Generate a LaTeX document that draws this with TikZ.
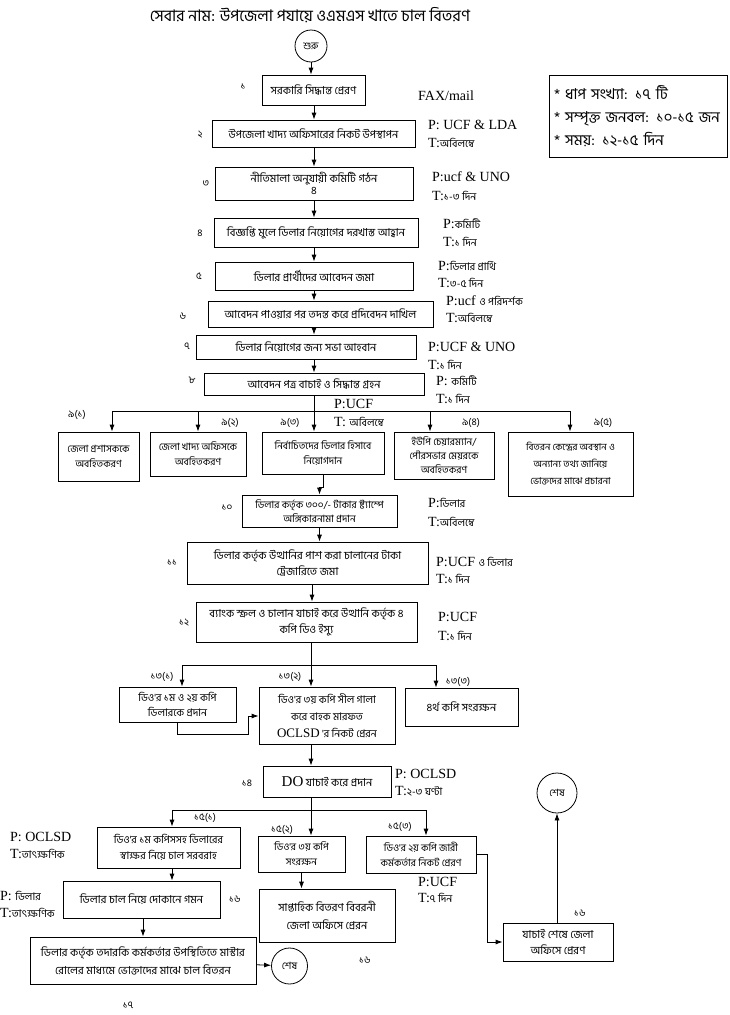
\documentclass[tikz,border=0pt]{standalone}
\usepackage{fontspec}
\setmainfont{Liberation Serif}
\newfontfamily\bn[Script=Bengali]{Hind Siliguri}
\newcommand{\bnsmall}[1]{{\bn\fontsize{10.5}{12}\selectfont #1}}
\usetikzlibrary{arrows.meta}

\begin{document}
\begin{tikzpicture}[%
		x=1pt, y=-1pt,
		>={Latex[length=7pt,width=5pt]},
		box/.style={%
			draw,
			line width=0.8pt,
			align=center,
			inner sep=1pt,
			font=\bn\fontsize{11}{16}\selectfont
		},
		smallbox/.style={%
			box,
			font=\bn\fontsize{10}{15}\selectfont
		},
		term/.style={%
			draw,
			circle,
			line width=0.8pt,
			inner sep=0pt,
			font=\bn\fontsize{10}{12}\selectfont
		},
		stepno/.style={inner sep=0pt, font=\bn\fontsize{10}{12}\selectfont},
		who/.style={anchor=west, inner sep=0pt, font=\fontsize{14}{15}\selectfont},
		flow/.style={->, line width=0.8pt},
		bus/.style={line width=0.8pt}
		]
		\fill[white] (0,0) rectangle (730,1015);
		\useasboundingbox (0,0) rectangle (730,1015);

		\node[font=\bn\fontsize{16}{19}\selectfont] (title) at (310,15) {সেবার নাম: উপজেলা পযায়ে ওএমএস খাতে চাল বিতরণ};
		\node[draw, line width=0.8pt, minimum width=178, minimum height=82, text width=168, align=left,
			font=\bn\fontsize{15}{23}\selectfont] (summary) at (638,116)
			{{*} ধাপ সংখ্যা: ১৭ টি\\{*} সম্পৃক্ত জনবল: ১০-১৫ জন\\{*} সময়: ১২-১৫ দিন};

		\node[term, minimum size=32] (start) at (311,46) {শুরু};
		\node[box, minimum width=103, minimum height=30] (s1) at (313.5,90)  {সরকারি সিদ্ধান্ত প্রেরণ};
		\node[box, minimum width=203, minimum height=27] (s2) at (313.5,133.5) {উপজেলা খাদ্য অফিসারের নিকট উপস্থাপন};
		\node[box, minimum width=198, minimum height=33, font=\bn\fontsize{11}{12}\selectfont] (s3) at (314,183.5) {নীতিমালা অনুযায়ী কমিটি গঠন\\৪};
		\node[box, minimum width=204, minimum height=29] (s4) at (316,232.5) {বিজ্ঞপ্তি মুলে ডিলার নিয়োগের দরখাস্ত আহ্বান};
		\node[box, minimum width=198, minimum height=28] (s5) at (314,276)   {ডিলার প্রার্থীদের আবেদন জমা};
		\node[box, minimum width=225, minimum height=26] (s6) at (320.5,314) {আবেদন পাওয়ার পর তদন্ত করে প্রদিবেদন দাখিল};
		\node[box, minimum width=220, minimum height=24] (s7) at (306,347)   {ডিলার নিয়োগের জন্য সভা আহবান};
		\node[box, minimum width=220, minimum height=22] (s8) at (314,384)   {আবেদন পত্র বাচাই ও সিদ্ধান্ত গ্রহন};

		\node[smallbox, minimum width=81,  minimum height=49] (s91) at (98.5,456.5) {জেলা প্রশাসককে\\অবহিতকরণ};
		\node[smallbox, minimum width=96,  minimum height=44] (s92) at (198,454)    {জেলা খাদ্য অফিসকে\\অবহিতকরণ};
		\node[smallbox, minimum width=122, minimum height=42] (s93) at (323,453)    {নির্বাচিতদের ডিলার হিসাবে\\নিয়োগদান};
		\node[smallbox, minimum width=100, minimum height=47, font=\bn\fontsize{10}{14}\selectfont] (s94) at (444,455.5) {ইউপি চেয়ারম্যান/\\পৌরসভার মেয়রকে\\অবহিতকরণ};
		\node[smallbox, minimum width=125, minimum height=64, font=\bn\fontsize{9.5}{17}\selectfont] (s95) at (570.5,464) {বিতরন কেন্দ্রের অবস্থান ও\\অন্যান্য তথ্য জানিয়ে\\ভোক্তদের মাঝে প্রচারনা};

		\node[smallbox, minimum width=155, minimum height=32, font=\bn\fontsize{10}{14}\selectfont] (s10) at (319.5,511) {ডিলার কর্তৃক ৩০০/- টাকার ষ্ট্যাম্পে\\অঙ্গিকারনামা প্রদান};
		\node[box, minimum width=241, minimum height=42] (s11) at (307.5,563) {ডিলার কর্তৃক উত্থানির পাশ করা চালানের টাকা\\ট্রেজারিতে জমা};
		\node[box, minimum width=221, minimum height=40] (s12) at (306.5,622) {ব্যাংক স্ক্রল ও চালান যাচাই করে উত্থানি কর্তৃক ৪\\কপি ডিও ইস্যু};

		\node[box, minimum width=117, minimum height=35, font=\bn\fontsize{10.5}{15}\selectfont] (s131) at (177.5,704.5) {ডিও'র ১ম ও ২য় কপি\\ডিলারকে প্রদান};
		\node[box, minimum width=136, minimum height=57, font=\bn\fontsize{10.5}{17}\selectfont] (s132) at (327,715.5) {ডিও'র ৩য় কপি সীল গালা\\করে বাহক মারফত\\{\rmfamily\fontsize{13}{14}\selectfont OCLSD} 'র নিকট প্রেরন};
		\node[box, minimum width=113, minimum height=38] (s133) at (461.5,707)   {৪র্থ কপি সংরক্ষন};

		\node[box, minimum width=128, minimum height=31] (s14) at (327,781.5) {{\rmfamily\fontsize{15}{16}\selectfont DO} যাচাই করে প্রদান};

		\node[box, minimum width=143, minimum height=41, font=\bn\fontsize{10.5}{16}\selectfont] (s151) at (168.5,847.5) {ডিও'র ১ম কপিসসহ ডিলারের\\স্বাক্ষর নিয়ে চাল সরবরাহ};
		\node[smallbox, minimum width=87,  minimum height=36] (s152) at (301.5,854) {ডিও'র ৩য় কপি\\সংরক্ষন};
		\node[smallbox, minimum width=110, minimum height=37] (s153) at (421,854.5) {ডিও'র ২য় কপি জারী\\কর্মকর্তার নিকট প্রেরণ};

		\node[box, minimum width=157, minimum height=37] (s16a) at (141.5,899.5) {ডিলার চাল নিয়ে দোকানে গমন};
		\node[box, minimum width=136, minimum height=53, font=\bn\fontsize{11}{18}\selectfont] (s16b) at (327,915.5) {সাপ্তাহিক বিতরণ বিবরনী\\জেলা অফিসে প্রেরন};
		\node[box, minimum width=110, minimum height=38] (s16c) at (558,942)     {যাচাই শেষে জেলা\\অফিসে প্রেরণ};
		\node[box, minimum width=226, minimum height=47, font=\bn\fontsize{11}{18}\selectfont] (s17) at (143,960.5) {ডিলার কর্তৃক তদারকি কর্মকর্তার উপস্থিতিতে মাস্টার\\রোলের মাধ্যমে ভোক্তাদের মাঝে চাল বিতরন};

		\node[term, minimum size=36] (end1) at (289.5,966) {শেষ};
		\node[term, minimum size=40] (end2) at (557,793)   {শেষ};

		\node[stepno] (n1)  at (243,87)  {১};
		\node[stepno] (n2)  at (200,135) {২};
		\node[stepno] (n3)  at (206,184) {৩};
		\node[stepno] (n4)  at (200,233) {৪};
		\node[stepno] (n5)  at (199,276) {৫};
		\node[stepno] (n6)  at (183,316) {৬};
		\node[stepno] (n7)  at (187,346) {৭};
		\node[stepno] (n8)  at (192,380) {৮};
		\node[stepno] (n91) at (77,415)  {৯(১)};
		\node[stepno] (n92) at (230,423) {৯(২)};
		\node[stepno] (n93) at (290,423) {৯(৩)};
		\node[stepno] (n94) at (471,423) {৯(৪)};
		\node[stepno] (n95) at (603,423) {৯(৫)};
		\node[stepno] (n10) at (227,508) {১০};
		\node[stepno] (n11) at (172,563) {১১};
		\node[stepno] (n12) at (184,623) {১২};
		\node[stepno] (n131) at (162,677) {১৩(১)};
		\node[stepno] (n132) at (290,677) {১৩(২)};
		\node[stepno] (n133) at (458,682) {১৩(৩)};
		\node[stepno] (n14) at (247,783) {১৪};
		\node[stepno] (n151) at (205,818) {১৫(১)};
		\node[stepno] (n152) at (282,830) {১৫(২)};
		\node[stepno] (n153) at (400,827) {১৫(৩)};
		\node[stepno] (n16a) at (235,899) {১৬};
		\node[stepno] (n16b) at (365,960) {১৬};
		\node[stepno] (n16c) at (580,913) {১৬};
		\node[stepno] (n17) at (128,1005) {১৭};

		\node[who] (fax) at (418,96) {FAX/mail};
		\node[who] (p2) at (428,125) {P: UCF \& LDA};
		\node[who] (t2) at (428,143) {T:\bnsmall{অবিলম্বে}};
		\node[who] (p3) at (432,177) {P:ucf \& UNO};
		\node[who] (t3) at (432,196) {T:\bnsmall{১-৩ দিন}};
		\node[who] (p4) at (443,224) {P:\bnsmall{কমিটি}};
		\node[who] (t4) at (443,242) {T:\bnsmall{১ দিন}};
		\node[who] (p5) at (438,266) {P:\bnsmall{ডিলার প্রার্থি}};
		\node[who] (t5) at (438,283) {T:\bnsmall{৩-৫ দিন}};
		\node[who] (p6) at (446,301) {P:ucf \bnsmall{ও পরিদর্শক}};
		\node[who] (t6) at (446,318) {T:\bnsmall{অবিলম্বে}};
		\node[who] (p7) at (428,347) {P:UCF \& UNO};
		\node[who] (t7) at (428,365) {T:\bnsmall{১ দিন}};
		\node[who] (p8) at (436,381) {P: \bnsmall{কমিটি}};
		\node[who] (t8) at (436,399) {T:\bnsmall{১ দিন}};
		\node[who] (p9) at (334,404) {P:UCF};
		\node[who] (t9) at (334,422) {T: \bnsmall{অবিলম্বে}};
		\node[who] (p10) at (428,503) {P:\bnsmall{ডিলার}};
		\node[who] (t10) at (428,522) {T:\bnsmall{অবিলম্বে}};
		\node[who] (p11) at (436,562) {P:UCF \bnsmall{ও ডিলার}};
		\node[who] (t11) at (436,579) {T:\bnsmall{১ দিন}};
		\node[who] (p12) at (438,617) {P:UCF};
		\node[who] (t12) at (438,636) {T:\bnsmall{১ দিন}};
		\node[who] (p14) at (395,774) {P: OCLSD};
		\node[who] (t14) at (395,791) {T:\bnsmall{২-৩ ঘণ্টা}};
		\node[who] (p151) at (10,837) {P: OCLSD};
		\node[who] (t151) at (10,854) {T:\bnsmall{তাৎক্ষণিক}};
		\node[who] (p16a) at (0,896) {P: \bnsmall{ডিলার}};
		\node[who] (t16a) at (0,913) {T:\bnsmall{তাৎক্ষণিক}};
		\node[who] (p153) at (418,882) {P:UCF};
		\node[who] (t153) at (418,898) {T:\bnsmall{৭ দিন}};

		\coordinate (spine) at (314,0);
		\coordinate (spine12) at (312,0);
		\coordinate (b9)   at (314,411);
		\coordinate (b9l)  at (112,411);
		\coordinate (b9d)  at (430,411);
		\coordinate (b9r)  at (570,411);
		\coordinate (b13)  at (311,665);
		\coordinate (b13l) at (182,665);
		\coordinate (b13r) at (436,665);
		\coordinate (j13)  at (248,716);
		\coordinate (b15)  at (311,810);
		\coordinate (b15l) at (172,810);
		\coordinate (b15r) at (426,810);
		\coordinate (j15)  at (487,942);

		\path[flow] (start.south) edge (start.south |- s1.north)
			(s1.south -| spine) edge (s2.north -| spine)
			(s2.south -| spine) edge (s3.north -| spine)
			(s3.south -| spine) edge (s4.north -| spine)
			(s4.south -| spine) edge (s5.north -| spine)
			(s5.south -| spine) edge (s6.north -| spine)
			(s6.south -| spine) edge (s7.north -| spine)
			(s7.south -| spine) edge (s8.north -| spine);

		\draw[bus] (s8.south -| spine) -- (b9);
		\draw[bus] (b9l) -- (b9r);
		\path[flow] (b9l) edge (b9l |- s91.north)
			(b9l -| s92) edge (s92.north)
			(b9) edge (b9 |- s93.north)
			(b9d) edge (b9d |- s94.north)
			(b9r) edge (b9r |- s95.north);

		\draw[flow] (s93.south) -- ++(0,13) -| (s10.north);
		\path[flow] (s10.south) edge (s10.south |- s11.north)
			(s11.south -| spine12) edge (s12.north -| spine12);

		\draw[bus] (s12.south -| b13) -- (b13);
		\draw[bus] (b13l) -- (b13r);
		\path[flow] (b13l) edge (b13l |- s131.north)
			(b13) edge (b13 |- s132.north)
			(b13r) edge (b13r |- s133.north);
		\draw[flow] (s131.south) -- ++(0,12) -| (j13) -- (j13 -| s132.west);
		\draw[flow] (s132.south -| b13) -- (s14.north -| b13);

		\draw[bus] (s14.south -| b15) -- (b15);
		\draw[bus] (b15l) -- (b15r);
		\path[flow] (b15l) edge (b15l |- s151.north)
			(b15) edge (b15 |- s152.north)
			(b15r) edge (b15r |- s153.north);

		\path[flow] (s151.south -| b15l) edge (b15l |- s16a.north)
			(s152.south) edge (s152.south |- s16b.north)
			(s16a.south -| s17) edge (s17.north)
			(s17) edge (end1);
		\draw[flow] (s153.east) -| (j15) -- (s16c.west);
		\draw[flow] (s16c.north -| end2) -- (end2.south);
\end{tikzpicture}
\end{document}
